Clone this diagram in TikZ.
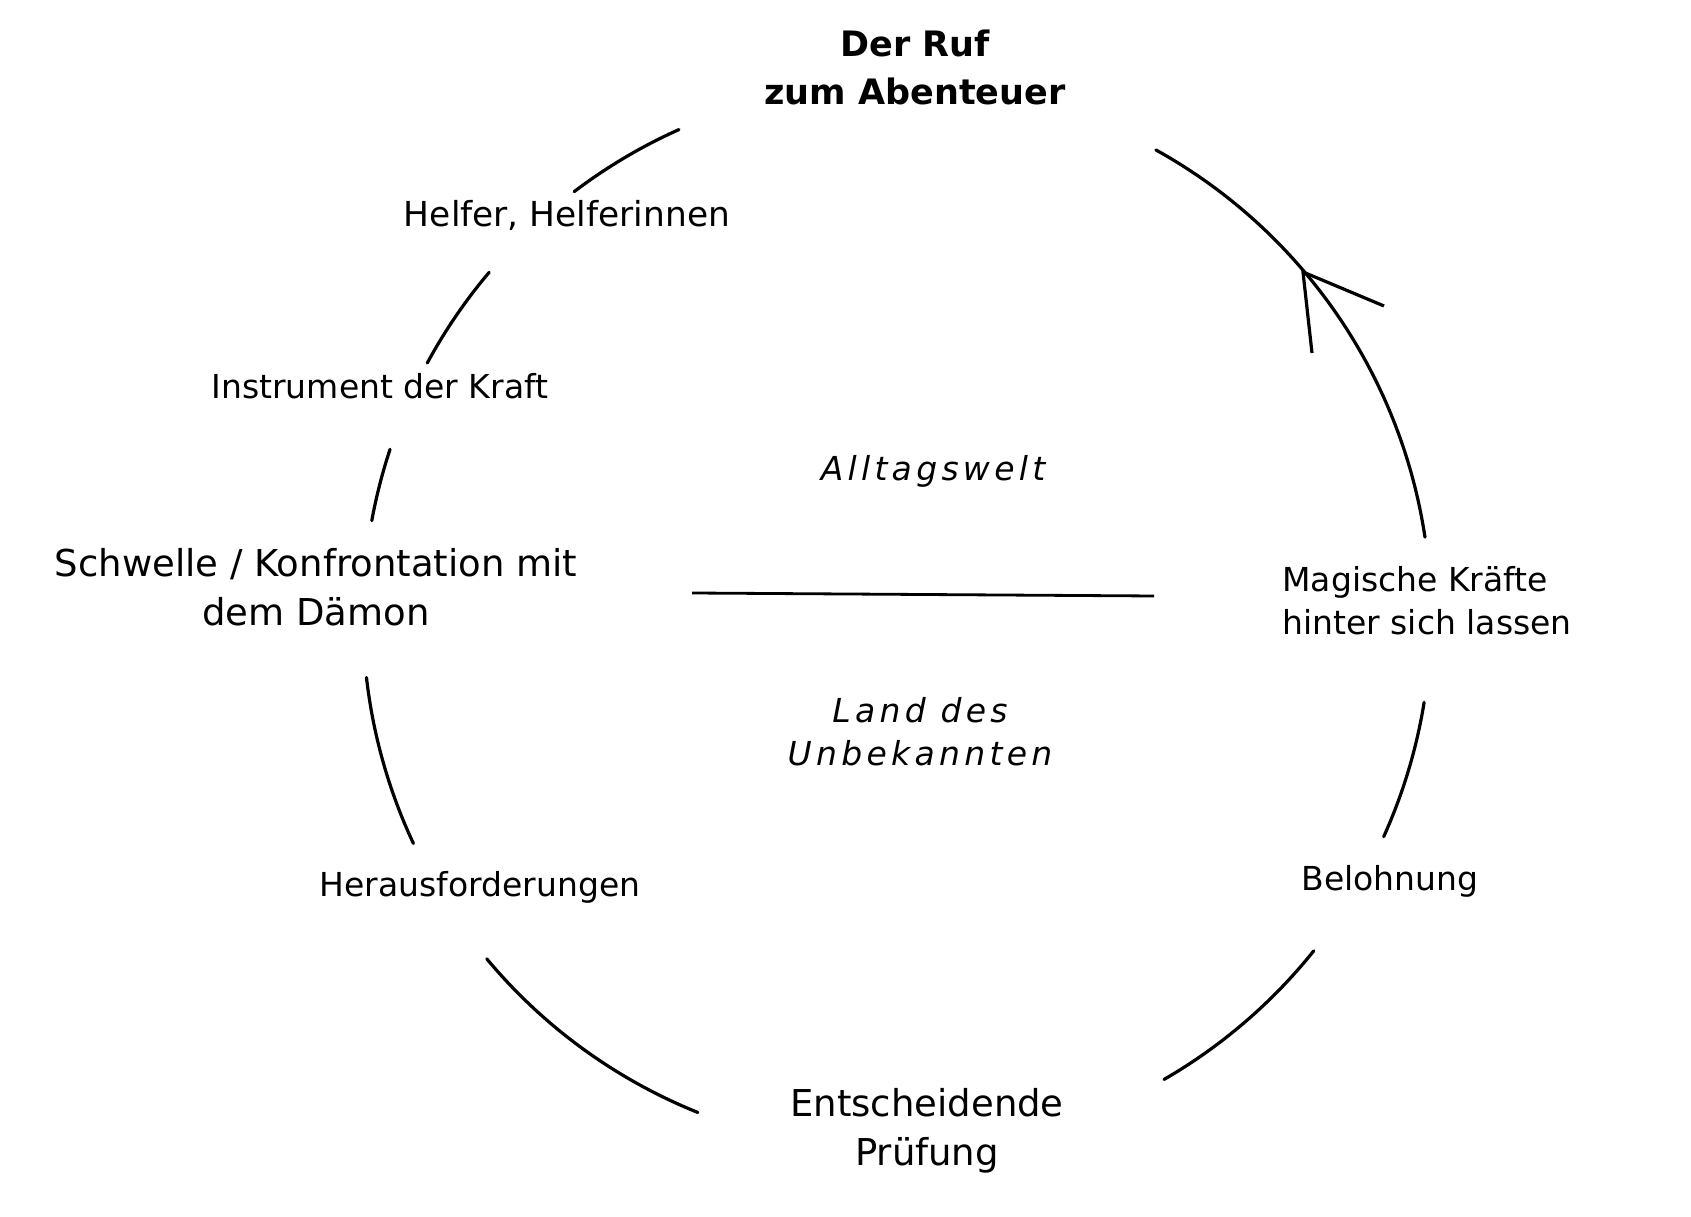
\documentclass[tikz,border=0pt]{standalone}
\usepackage{fontspec}
\setmainfont{DejaVu Sans}
\newfontfamily\spacedfont{DejaVu Sans}[LetterSpace=13]
\begin{document}
\begin{tikzpicture}[x=0.5pt,y=0.5pt,
  arcline/.style={line width=1.6pt, line cap=round},
  midlbl/.style={font=\fontsize{16.5}{21.5}\selectfont, inner sep=0pt, align=center},
  biglbl/.style={font=\fontsize{18.5}{24.5}\selectfont, inner sep=0pt, align=center},
  toplbl/.style={font=\fontsize{17.5}{24}\selectfont\bfseries, inner sep=0pt, align=center},
  worldlbl/.style={font=\fontsize{16.5}{21.5}\selectfont\spacedfont\itshape, inner sep=0pt, align=center}]
\useasboundingbox (0,0) rectangle (1691,1216);
\coordinate (C) at (897,599);
\def\R{534}
% arcs
\draw[arcline] ([shift={(C)}]114.1:\R) arc[start angle=114.1, end angle=127.2, radius=\R];
\draw[arcline] ([shift={(C)}]139.8:\R) arc[start angle=139.8, end angle=151.6, radius=\R];
\draw[arcline] ([shift={(C)}]161.7:\R) arc[start angle=161.7, end angle=169.6, radius=\R];
\draw[arcline] ([shift={(C)}]186.5:\R) arc[start angle=186.5, end angle=205.1, radius=\R];
\draw[arcline] ([shift={(C)}]219.8:\R) arc[start angle=219.8, end angle=248.1, radius=\R];
\draw[arcline] ([shift={(C)}]300:\R) arc[start angle=300, end angle=321.3, radius=\R];
\draw[arcline] ([shift={(C)}]335.7:\R) arc[start angle=335.7, end angle=350.8, radius=\R];
\draw[arcline] ([shift={(C)}]8.6:\R) arc[start angle=8.6, end angle=61.0, radius=\R];
% arrowhead
\coordinate (tip) at (1303,944);
\coordinate (legA) at (1384,910);
\coordinate (legB) at (1312,863);
\draw[arcline, line cap=butt] (legA) -- (tip) -- (legB);
% divider
\coordinate (divL) at (692,623);
\coordinate (divR) at (1154,620);
\draw[line width=1.4pt] (divL) -- (divR);
% labels
\node[toplbl] (ruf) at (915,1149) {Der Ruf\\zum Abenteuer};
\node[midlbl, font=\fontsize{17.2}{21.5}\selectfont] (helfer) at (567,1001) {Helfer, Helferinnen};
\node[midlbl] (instr) at (380,830) {Instrument der Kraft};
\node[biglbl] (schwelle) at (316,629) {Schwelle / Konfrontation mit\\dem Dämon};
\node[midlbl] (heraus) at (480,328.5) {Herausforderungen};
\node[biglbl] (pruef) at (927,85) {Entscheidende\\Prüfung};
\node[midlbl] (belohn) at (1390,334.5) {Belohnung};
\node[midlbl, align=left, anchor=west] (magisch) at (1282,615) {Magische Kräfte\\hinter sich lassen};
\node[worldlbl] (alltag) at (933,744.5) {Alltagswelt};
\node[worldlbl] (land) at (920,484) {Land des\\Unbekannten};
\end{tikzpicture}
\end{document}
